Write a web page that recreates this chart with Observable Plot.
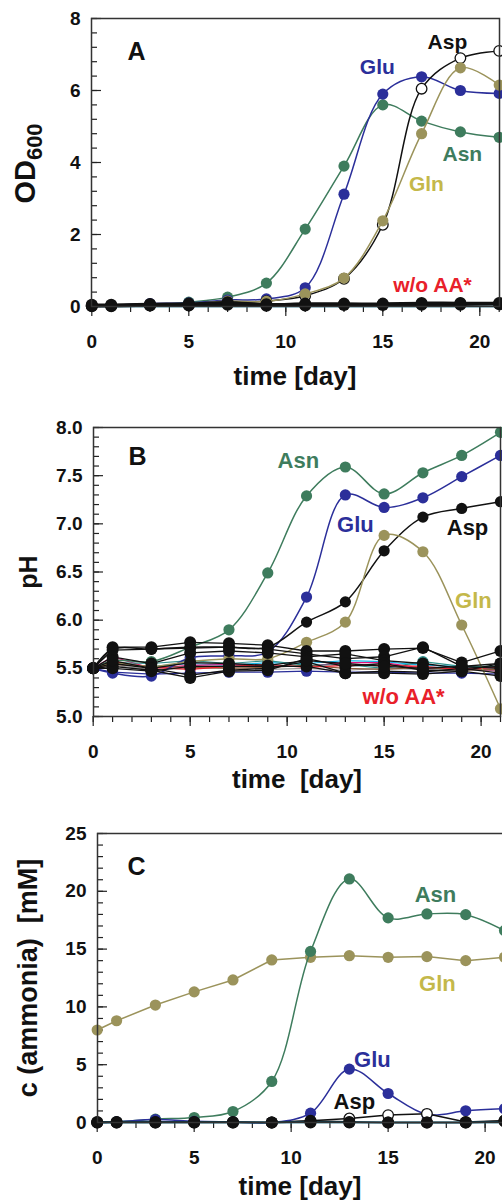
<!DOCTYPE html>
<html><head><meta charset="utf-8">
<script src="https://cdn.jsdelivr.net/npm/d3@7"></script>
<script src="https://cdn.jsdelivr.net/npm/@observablehq/plot@0.6"></script>
<style>
html,body{margin:0;padding:0;background:#fff;overflow:hidden;}
#chart svg{display:block;overflow:hidden;}
</style></head><body><div id="chart"></div>
<script>
// sampling days
const days = [0,1,3,5,7,9,11,13,15,17,19,21];

// Panel A: OD600
const odAsn = [0.02,0.03,0.05,0.12,0.26,0.65,2.15,3.9,5.6,5.15,4.85,4.7];
const odGlu = [0.02,0.03,0.08,0.1,0.18,0.21,0.52,3.12,5.9,6.38,6.0,5.92];
const odGln = [0.02,0.03,0.05,0.07,0.15,0.14,0.35,0.79,2.38,4.8,6.63,6.15];
const odAsp = [0.02,0.02,0.03,0.05,0.1,0.15,0.3,0.77,2.27,6.05,6.9,7.1];
const odCtrl1 = [0.05,0.05,0.07,0.08,0.12,0.06,0.08,0.08,0.08,0.1,0.1,0.1];
const odCtrl2 = [0.03,0.03,0.05,0.05,0.08,0.04,0.05,0.06,0.06,0.07,0.08,0.08];
const odCtrl3 = [0.01,0.01,0.03,0.03,0.05,0.02,0.03,0.04,0.04,0.05,0.05,0.06];
const odCtrlCyan = [0,0,0,0,0,0,0,0,0,0,0,0];

// Panel B: pH
const phAsn = [5.5,5.58,5.57,5.72,5.9,6.49,7.29,7.59,7.31,7.53,7.71,7.95];
const phGlu = [5.5,5.45,5.42,5.61,5.63,5.67,6.24,7.3,7.17,7.27,7.49,7.71];
const phAsp = [5.5,5.7,5.7,5.72,5.72,5.72,5.98,6.19,6.72,7.07,7.16,7.23];
const phGln = [5.5,5.55,5.52,5.57,5.6,5.6,5.77,5.98,6.88,6.71,5.95,5.08];
const phCtrlBlack = [
  [5.5,5.72,5.72,5.77,5.76,5.74,5.68,5.68,5.70,5.71,5.56,5.68],
  [5.5,5.69,5.70,5.71,5.72,5.70,5.65,5.60,5.62,5.72,5.52,5.55],
  [5.5,5.62,5.55,5.66,5.68,5.66,5.62,5.65,5.58,5.55,5.50,5.52],
  [5.5,5.55,5.50,5.43,5.48,5.50,5.57,5.45,5.47,5.46,5.50,5.45],
  [5.5,5.52,5.48,5.40,5.47,5.48,5.60,5.52,5.55,5.48,5.47,5.55],
  [5.5,5.50,5.47,5.52,5.52,5.52,5.52,5.45,5.45,5.44,5.47,5.42],
  [5.5,5.58,5.50,5.56,5.55,5.53,5.58,5.55,5.52,5.50,5.52,5.50]
];
const phCtrlColored = [
  [5.5,5.55,5.52,5.55,5.53,5.56,5.55,5.58,5.57,5.53,5.52,5.50],
  [5.5,5.62,5.50,5.53,5.54,5.52,5.52,5.56,5.56,5.50,5.50,5.47],
  [5.5,5.56,5.55,5.58,5.55,5.58,5.53,5.54,5.50,5.57,5.52,5.52],
  [5.5,5.53,5.49,5.50,5.51,5.49,5.50,5.48,5.50,5.49,5.49,5.48],
  [5.5,5.54,5.52,5.51,5.50,5.51,5.53,5.50,5.49,5.51,5.48,5.49],
  [5.5,5.57,5.51,5.49,5.52,5.54,5.51,5.53,5.53,5.52,5.49,5.51],
  [5.5,5.46,5.44,5.45,5.46,5.46,5.47,5.46,5.46,5.45,5.45,5.44]
];
const phCtrlColors = ["#19b4e6","#e0107a","#2f8f8a","#9a9a9a","#8a5a3a","#e8202a","#2b2f9a"];

// Panel C: ammonia [mM]
const nhAsn = [0,0.05,0.29,0.43,0.95,3.55,14.8,21.07,17.7,18.04,17.98,16.6];
const nhGln = [8.0,8.8,10.16,11.3,12.33,14.06,14.29,14.43,14.29,14.35,14.0,14.29];
const nhGlu = [0,0.05,0.25,0.1,0.05,0,0.81,4.62,2.51,0.7,1.01,1.19];
const nhAsp = [0,0,0,0,0,0,0.15,0.35,0.64,0.75,0.05,0.15];
const nhCtrl1 = [0,0,0,0,0,0,0,0,0,0,0,0.15];
const nhCtrl2 = [0.05,0.05,0.05,0.05,0.05,0,0.1,0.05,0,0,0,0.1];
const nhCtrlCyan = [0,0,0,0,0,0,0,0,0,0,0,0];

// ticks
const xMajor = [0,5,10,15,20];
const xMinor = d3.range(0,22,1);
const yMajorA = [0,2,4,6,8];
const yMinorA = d3.range(0,8.01,0.4);
const yMajorB = [5.0,5.5,6.0,6.5,7.0,7.5,8.0];
const yMinorB = d3.range(5.0,8.01,0.1);
const yMajorC = [0,5,10,15,20,25];
const yMinorC = d3.range(0,25.01,1);

// colors
const col = {Asn:"#3e7c5d", Glu:"#2b2f9a", Gln:"#9b935b", GlnLabel:"#c4b84a", Asp:"#111111", ctrl:"#111111", red:"#e8202a", cyan:"#19b4e6"};

// annotation labels (data units)
const labelsA = [
  {text:"A", x:2.3, y:7.06, color:"#111", size:25},
  {text:"Asp", x:18.33, y:7.33, color:col.Asp, size:21},
  {text:"Glu", x:14.72, y:6.64, color:col.Glu, size:21},
  {text:"Asn", x:19.1, y:4.22, color:col.Asn, size:21},
  {text:"Gln", x:17.25, y:3.39, color:col.GlnLabel, size:21},
  {text:"w/o AA*", x:17.56, y:0.58, color:col.red, size:21}
];
const labelsB = [
  {text:"B", x:2.28, y:7.69, color:"#111", size:25},
  {text:"Asn", x:10.58, y:7.65, color:col.Asn, size:22},
  {text:"Glu", x:13.52, y:6.99, color:col.Glu, size:22},
  {text:"Asp", x:19.3, y:6.96, color:col.Asp, size:22},
  {text:"Gln", x:19.6, y:6.20, color:col.GlnLabel, size:22},
  {text:"w/o AA*", x:16.0, y:5.20, color:col.red, size:22}
];
const labelsC = [
  {text:"C", x:2.03, y:22.1, color:"#111", size:25},
  {text:"Asn", x:17.44, y:19.7, color:col.Asn, size:22},
  {text:"Gln", x:17.54, y:12.0, color:col.GlnLabel, size:22},
  {text:"Glu", x:14.19, y:5.42, color:col.Glu, size:22},
  {text:"Asp", x:13.26, y:1.79, color:col.Asp, size:22}
];

const ink = "#222";
const FONT = "Liberation Sans, Arial, Helvetica, sans-serif";

function rowsOf(values){ return days.map((t,i)=>({t, v: values[i]})); }

function makePanel(cfg){
  const marks = [];
  // y ticks (inward)
  marks.push(Plot.axisY({ticks: cfg.yMinor, tickSize: -6, tickFormat: () => "", stroke: ink, strokeWidth: 1.2, label: null}));
  marks.push(Plot.axisY({ticks: cfg.yMajor, tickSize: -10, tickFormat: () => "", stroke: ink, strokeWidth: 1.2, label: null}));
  marks.push(Plot.axisY({ticks: cfg.yMajor, tickSize: 0, tickPadding: 11, tickFormat: cfg.yFormat, fontSize: 19, fontWeight: "bold", fill: "#111", label: null}));
  // x ticks (outward)
  marks.push(Plot.axisX({ticks: xMinor, tickSize: 6, tickFormat: () => "", stroke: ink, strokeWidth: 1.2, label: null}));
  marks.push(Plot.axisX({ticks: xMajor, tickSize: 10, tickFormat: () => "", stroke: ink, strokeWidth: 1.2, label: null}));
  marks.push(Plot.axisX({ticks: xMajor, tickSize: 0, tickPadding: 28, fontSize: 19, fontWeight: "bold", fill: "#111", label: null}));
  for (const s of cfg.series){
    const rows = rowsOf(s.values);
    marks.push(Plot.line(rows, {x:"t", y:"v", stroke: s.line, strokeWidth: s.width || 1.5, curve: s.curve || "catmull-rom"}));
    if (s.dot) marks.push(Plot.dot(rows, {x:"t", y:"v", r: s.r || 5.6, fill: s.dot, stroke: s.dotStroke || "none", strokeWidth: 1.3}));
  }
  marks.push(Plot.frame({stroke: "#333", strokeWidth: 1.5}));
  for (const l of cfg.labels){
    marks.push(Plot.text([l], {x:"x", y:"y", text:"text", fill: l.color, fontSize: l.size, fontWeight: "bold"}));
  }
  return Plot.plot({
    width: 502, height: cfg.height,
    marginTop: cfg.marginTop, marginBottom: cfg.marginBottom,
    marginLeft: cfg.marginLeft, marginRight: cfg.marginRight,
    x: {domain: [0,21], range: cfg.xRange, label: null},
    y: {domain: cfg.yDomain, label: null},
    style: {fontFamily: FONT, fontWeight: "bold", background: "#fff", overflow: "hidden"},
    marks
  });
}

function addText(svg, {x, y, rotate = 0, size, parts}){
  const t = d3.select(svg).append("text")
    .attr("transform", `translate(${x},${y}) rotate(${rotate})`)
    .attr("text-anchor", "middle")
    .attr("font-family", FONT)
    .attr("font-weight", "bold")
    .attr("fill", "#111")
    .style("white-space", "pre");
  for (const p of parts){
    const ts = t.append("tspan").text(p.text).attr("font-size", p.size || size);
    if (p.dy) ts.attr("dy", p.dy);
  }
}

const chart = document.getElementById("chart");

// Panel A
const seriesA = [
  {values: odCtrlCyan, line: col.cyan},
  {values: odAsn, line: col.Asn, dot: col.Asn},
  {values: odGlu, line: col.Glu, dot: col.Glu},
  {values: odAsp, line: col.Asp, dot: "#fff", dotStroke: "#111", r: 5.3},
  {values: odGln, line: col.Gln, dot: col.Gln},
  {values: odCtrl3, line: col.ctrl, dot: col.ctrl, width: 2.5, r: 6},
  {values: odCtrl2, line: col.ctrl, dot: col.ctrl, width: 2.5, r: 6},
  {values: odCtrl1, line: col.ctrl, dot: col.ctrl, width: 2.5, r: 6}
];
const svgA = makePanel({height: 400, marginTop: 18, marginBottom: 94, marginLeft: 91, marginRight: 3,
  xRange: [91.3, 498.7], yDomain: [0,8], yMajor: yMajorA, yMinor: yMinorA, yFormat: d3.format("d"),
  series: seriesA, labels: labelsA});
addText(svgA, {x: 35, y: 163.5, rotate: -90, size: 29, parts: [{text: "OD"}, {text: "600", size: 22, dy: 7}]});
addText(svgA, {x: 295, y: 385, size: 26, parts: [{text: "time [day]"}]});
chart.appendChild(svgA);

// Panel B
const seriesB = [];
phCtrlColored.forEach((v,i) => seriesB.push({values: v, line: phCtrlColors[i], dot: phCtrlColors[i], width: 1.2, curve: "linear"}));
seriesB.push({values: phAsn, line: col.Asn, dot: col.Asn});
seriesB.push({values: phGlu, line: col.Glu, dot: col.Glu});
seriesB.push({values: phAsp, line: col.Asp, dot: col.Asp});
seriesB.push({values: phGln, line: col.Gln, dot: col.Gln});
phCtrlBlack.forEach(v => seriesB.push({values: v, line: col.ctrl, dot: col.ctrl, width: 1.3, curve: "linear", r: 6}));
const svgB = makePanel({height: 400, marginTop: 27, marginBottom: 84, marginLeft: 93, marginRight: 2,
  xRange: [92.7, 500], yDomain: [5,8], yMajor: yMajorB, yMinor: yMinorB, yFormat: d3.format(".1f"),
  series: seriesB, labels: labelsB});
addText(svgB, {x: 37, y: 172, rotate: -90, size: 25, parts: [{text: "pH"}]});
addText(svgB, {x: 297, y: 388, size: 26, parts: [{text: "time  [day]"}]});
chart.appendChild(svgB);

// Panel C
const seriesC = [
  {values: nhGln, line: col.Gln, dot: col.Gln, curve: "linear"},
  {values: nhAsn, line: col.Asn, dot: col.Asn},
  {values: nhGlu, line: col.Glu, dot: col.Glu},
  {values: nhAsp, line: col.Asp, dot: "#fff", dotStroke: "#111", curve: "linear", r: 5.3},
  {values: nhCtrl2, line: col.ctrl, curve: "linear", width: 2},
  {values: nhCtrlCyan, line: col.cyan, curve: "linear"},
  {values: nhCtrl1, dot: col.ctrl, line: "none", curve: "linear", r: 6},
  {values: nhCtrl2, dot: col.ctrl, line: "none", curve: "linear", r: 6}
];
const svgC = makePanel({height: 403, marginTop: 33, marginBottom: 81, marginLeft: 97, marginRight: -2,
  xRange: [96.7, 504], yDomain: [0,25], yMajor: yMajorC, yMinor: yMinorC, yFormat: d3.format("d"),
  series: seriesC, labels: labelsC});
addText(svgC, {x: 37, y: 178, rotate: -90, size: 27, parts: [{text: "c (ammonia)  [mM]"}]});
addText(svgC, {x: 300, y: 395, size: 26, parts: [{text: "time [day]"}]});
chart.appendChild(svgC);
</script>
</body></html>
